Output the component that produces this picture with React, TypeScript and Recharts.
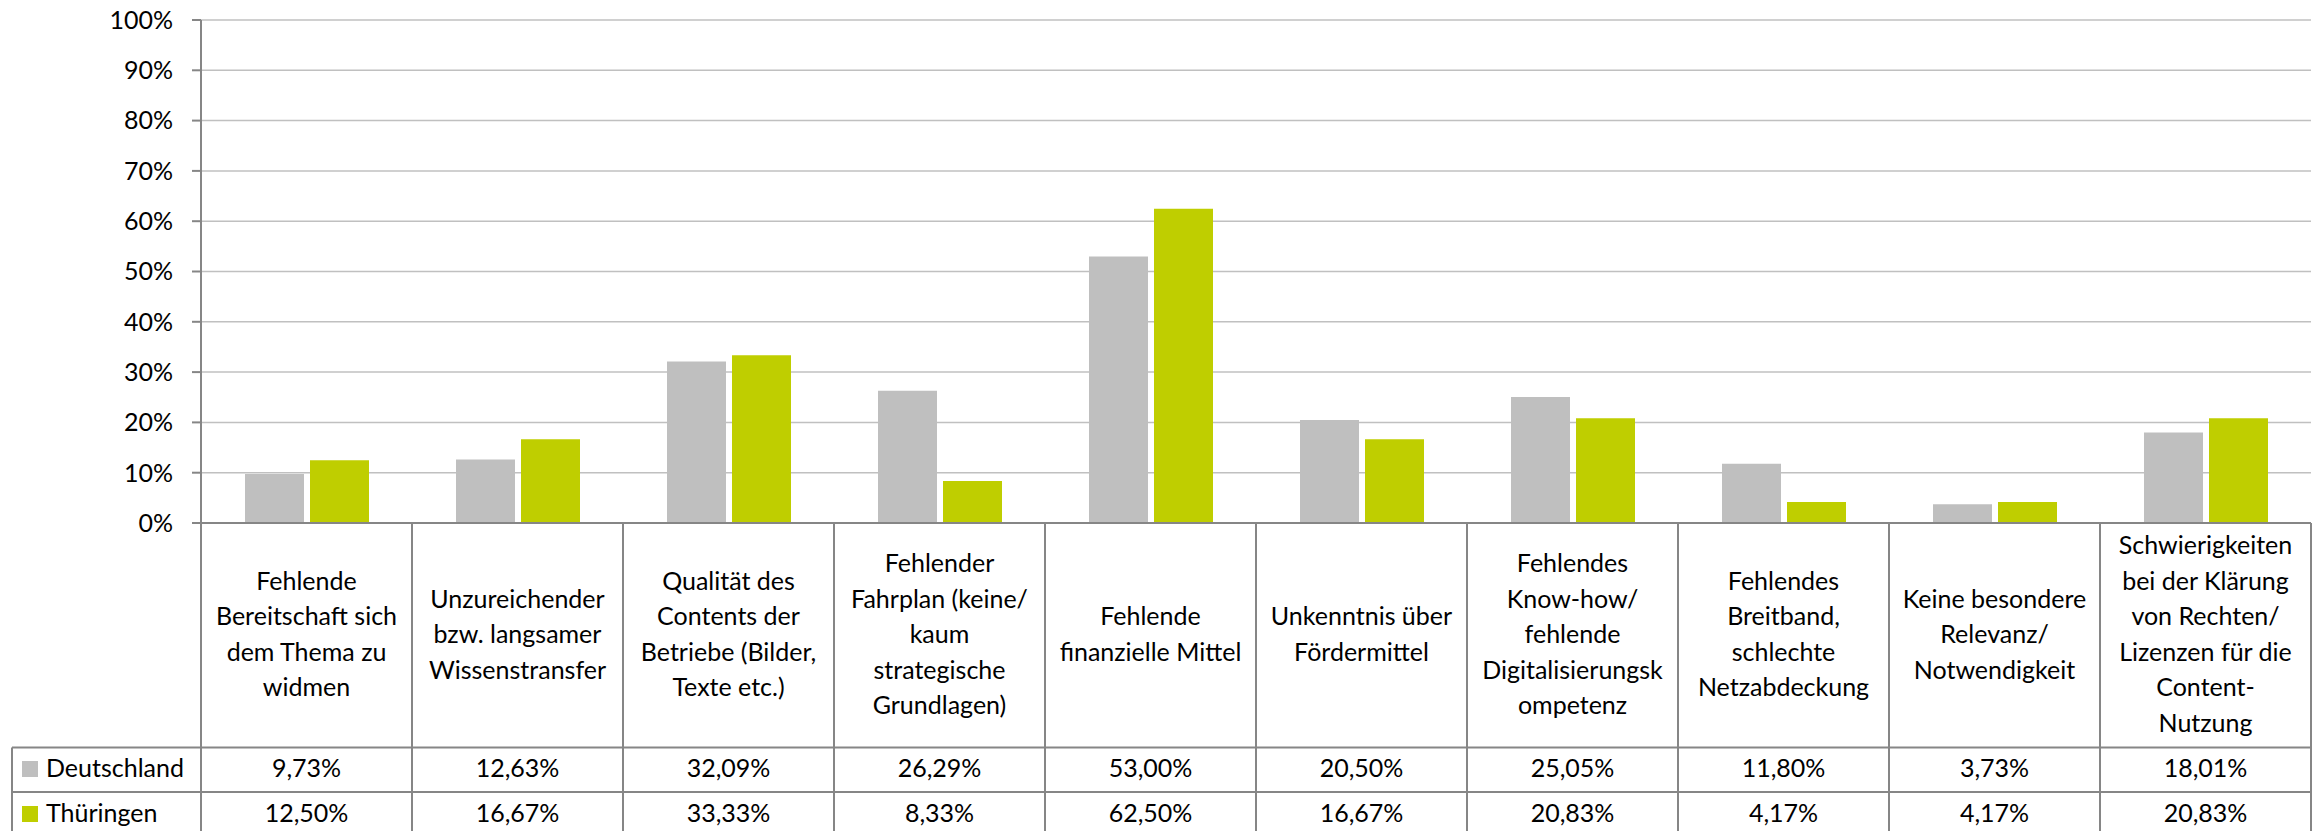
import { BarChart, Bar, XAxis, YAxis, CartesianGrid } from "recharts";

// categories (line breaks as in the original cells)
const categories = [
  "Fehlende\nBereitschaft sich\ndem Thema zu\nwidmen",
  "Unzureichender\nbzw. langsamer\nWissenstransfer",
  "Qualität des\nContents der\nBetriebe (Bilder,\nTexte etc.)",
  "Fehlender\nFahrplan (keine/\nkaum\nstrategische\nGrundlagen)",
  "Fehlende\nfinanzielle Mittel",
  "Unkenntnis über\nFördermittel",
  "Fehlendes\nKnow-how/\nfehlende\nDigitalisierungsk\nompetenz",
  "Fehlendes\nBreitband,\nschlechte\nNetzabdeckung",
  "Keine besondere\nRelevanz/\nNotwendigkeit",
  "Schwierigkeiten\nbei der Klärung\nvon Rechten/\nLizenzen für die\nContent-\nNutzung",
];

const seriesNames = ["Deutschland", "Thüringen"];
const deutschland = [9.73, 12.63, 32.09, 26.29, 53.0, 20.5, 25.05, 11.8, 3.73, 18.01];
const thueringen = [12.5, 16.67, 33.33, 8.33, 62.5, 16.67, 20.83, 4.17, 4.17, 20.83];
const seriesColors = ["#BFBFBF", "#BFCE00"];
const yTicks = [0, 10, 20, 30, 40, 50, 60, 70, 80, 90, 100];

const data = categories.map((name, i) => ({
  name,
  de: deutschland[i],
  th: thueringen[i],
}));
const seriesValues = [deutschland, thueringen];

// layout
const W = 2318;
const H = 831;
const PLOT_LEFT = 201;
const PLOT_RIGHT = 2311;
const PLOT_TOP = 20;
const PLOT_BOTTOM = 523;
const BAND = (PLOT_RIGHT - PLOT_LEFT) / categories.length;
const ROW1 = 747.5;
const ROW2 = 792;
const TABLE_LEFT = 12;
const LABEL_MID = 643;
const LINE_H = 35.5;
const FONT = "Lato, 'Liberation Sans', sans-serif";
const AXIS = "#868686";

const fmt = (v: number) => v.toFixed(2).replace(".", ",") + "%";

// draws the data table cell (label + values) under each category
const TableTick = (props: any) => {
  const { x, payload } = props;
  const i = payload?.index ?? props.index;
  const left = x - BAND / 2;
  const right = x + BAND / 2;
  const lines = categories[i].split("\n");
  const first = LABEL_MID - ((lines.length - 1) / 2) * LINE_H;
  const isLast = i === categories.length - 1;
  return (
    <g>
      <line x1={left} y1={PLOT_BOTTOM} x2={left} y2={H} stroke={AXIS} strokeWidth={2} />
      {isLast && <line x1={right} y1={PLOT_BOTTOM} x2={right} y2={H} stroke={AXIS} strokeWidth={2} />}
      <line x1={i === 0 ? TABLE_LEFT : left} y1={ROW1} x2={right} y2={ROW1} stroke={AXIS} strokeWidth={2} />
      <line x1={i === 0 ? TABLE_LEFT : left} y1={ROW2} x2={right} y2={ROW2} stroke={AXIS} strokeWidth={2} />
      <text textAnchor="middle" fontFamily={FONT} fontSize={25} fill="#000">
        {lines.map((ln, k) => (
          <tspan key={k} x={x} y={first + k * LINE_H}>
            {ln}
          </tspan>
        ))}
      </text>
      {seriesValues.map((vals, s) => (
        <text key={s} x={x} y={777 + s * 45} textAnchor="middle" fontFamily={FONT} fontSize={25} fill="#000">
          {fmt(vals[i])}
        </text>
      ))}
      {i === 0 && (
        <g>
          <line x1={TABLE_LEFT} y1={ROW1} x2={TABLE_LEFT} y2={H} stroke={AXIS} strokeWidth={2} />
          {seriesNames.map((n, s) => (
            <g key={n}>
              <rect x={22} y={761 + s * 45} width={16} height={16} fill={seriesColors[s]} />
              <text x={46} y={777 + s * 45} fontFamily={FONT} fontSize={25} fill="#000">
                {n}
              </text>
            </g>
          ))}
        </g>
      )}
    </g>
  );
};

export default function App() {
  return (
    <div style={{ position: "absolute", left: 0, top: 0, width: W, height: H, background: "#fff" }}>
      <BarChart
        width={W}
        height={H}
        data={data}
        margin={{ top: PLOT_TOP, right: W - PLOT_RIGHT, bottom: 0, left: PLOT_LEFT - 190 }}
        barCategoryGap={44}
        barGap={6}
      >
        <CartesianGrid vertical={false} stroke="#C0C0C0" strokeWidth={1.5} />
        <XAxis
          dataKey="name"
          interval={0}
          height={H - PLOT_BOTTOM}
          tickLine={false}
          axisLine={{ stroke: AXIS, strokeWidth: 2 }}
          tick={<TableTick />}
        />
        <YAxis
          width={190}
          domain={[0, 100]}
          ticks={yTicks}
          tickFormatter={(v: number) => `${v}%`}
          tickSize={9}
          tickMargin={19}
          axisLine={{ stroke: AXIS, strokeWidth: 2 }}
          tickLine={{ stroke: AXIS, strokeWidth: 2 }}
          tick={{ fill: "#000", fontSize: 25, fontFamily: FONT }}
        />
        <Bar dataKey="de" name={seriesNames[0]} fill={seriesColors[0]} isAnimationActive={false} />
        <Bar dataKey="th" name={seriesNames[1]} fill={seriesColors[1]} isAnimationActive={false} />
      </BarChart>
    </div>
  );
}
